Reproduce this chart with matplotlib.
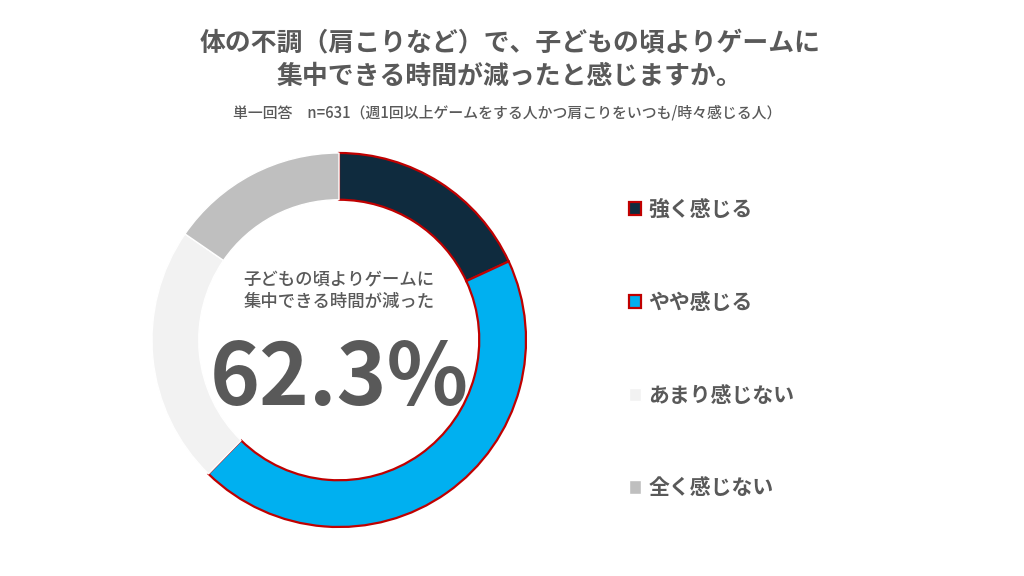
import matplotlib.pyplot as plt

plt.rcParams['font.family'] = ['Noto Sans CJK JP', 'DejaVu Sans']

# --- data ---
labels = ['強く感じる', 'やや感じる', 'あまり感じない', '全く感じない']
values = [18.1, 44.2, 22.3, 15.4]
colors = ['#0f2b3e', '#00b0f0', '#f2f2f2', '#bfbfbf']
edge_colors = ['#c00000', '#c00000', 'white', 'white']
total_label = '62.3%'

title = '体の不調（肩こりなど）で、子どもの頃よりゲームに\n集中できる時間が減ったと感じますか。'
subtitle = '単一回答　n=631（週1回以上ゲームをする人かつ肩こりをいつも/時々感じる人）'
center_text = '子どもの頃よりゲームに\n集中できる時間が減った'

text_gray = '#595959'

fig = plt.figure(figsize=(10.24, 5.76), dpi=100)

# pie axes: center (339, 340) px, radius 187 px
cx, cy, r = 339, 340, 187
ax = fig.add_axes([(cx - r) / 1024, (576 - cy - r) / 576, 2 * r / 1024, 2 * r / 576])
wedges, _ = ax.pie(values, colors=colors, startangle=90, counterclock=False,
                   radius=1.0, wedgeprops=dict(width=0.25, linewidth=1.6))
for w, ec in zip(wedges, edge_colors):
    w.set_edgecolor(ec)
    if ec == 'white':
        w.set_linewidth(1.0)
ax.set_xlim(-1, 1)
ax.set_ylim(-1, 1)
ax.set_aspect('equal')
ax.axis('off')

ax.text(0, 0.265, center_text, ha='center', va='center', fontsize=12.5,
        color=text_gray, linespacing=1.35, fontweight='medium')
ax.text(0.0, -0.21, total_label, ha='center', va='center', fontsize=61,
        color=text_gray, fontweight='bold')

leg = fig.legend(wedges, labels, loc='upper left', bbox_to_anchor=(610 / 1024, 1 - 180 / 576),
                 frameon=False, fontsize=15, labelspacing=3.45, handlelength=0.6,
                 handleheight=0.6, handletextpad=0.35)
for t in leg.get_texts():
    t.set_color(text_gray)
    t.set_fontweight('bold')

fig.text(0.498, 1 - 60 / 576, title, ha='center', va='center', fontsize=18.6,
         color=text_gray, fontweight='bold', linespacing=1.3)
fig.text(0.495, 1 - 113 / 576, subtitle, ha='center', va='center', fontsize=10.7,
         color=text_gray, fontweight='medium')

fig.savefig('out.png', dpi=100)
